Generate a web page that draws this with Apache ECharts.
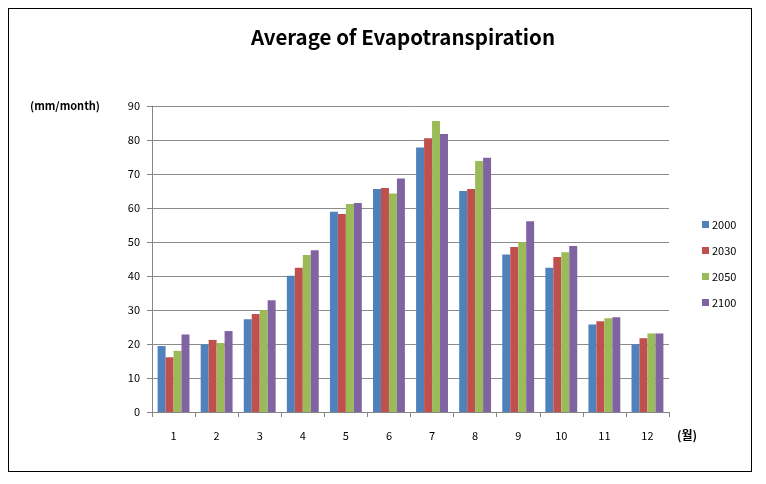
<!DOCTYPE html>
<html>
<head>
<meta charset="utf-8">
<script src="https://cdn.jsdelivr.net/npm/echarts@6/dist/echarts.min.js"></script>
<style>
html,body{margin:0;padding:0;background:#fff;}
#frame{position:absolute;left:8px;top:8px;width:744px;height:464px;border:1px solid #000;box-sizing:border-box;}
#chart{position:absolute;left:0;top:0;width:766px;height:484px;}
</style>
</head>
<body>
<div id="frame"></div>
<div id="chart"></div>
<script>
const months = ['1','2','3','4','5','6','7','8','9','10','11','12'];
const seriesNames = ['2000','2030','2050','2100'];
const s2000 = [19.4, 19.9, 27.3, 40.1, 58.9, 65.6, 77.8, 65.0, 46.3, 42.4, 25.7, 19.9];
const s2030 = [16.1, 21.2, 28.8, 42.4, 58.2, 65.9, 80.5, 65.6, 48.5, 45.6, 26.7, 21.7];
const s2050 = [18.0, 20.3, 30.0, 46.2, 61.2, 64.3, 85.6, 73.8, 49.9, 47.0, 27.6, 23.1];
const s2100 = [22.8, 23.8, 32.9, 47.6, 61.5, 68.7, 81.8, 74.8, 56.1, 48.8, 27.9, 23.1];
const yTicks = [0,10,20,30,40,50,60,70,80,90];

const colors = ['#4F81BD','#C0504D','#9BBB59','#8064A2'];
const dataSets = [s2000, s2030, s2050, s2100];
const font = '"Noto Sans CJK KR", "Noto Sans", sans-serif';

const chart = echarts.init(document.getElementById('chart'), null, {renderer:'canvas'});
chart.setOption({
  animation: false,
  backgroundColor: 'transparent',
  color: colors,
  title: {
    text: 'Average of Evapotranspiration',
    left: 398, top: 22, textAlign: 'center',
    textStyle: {fontFamily: font, fontSize: 20.5, fontWeight: 'bold', color: '#000'}
  },
  legend: {
    orient: 'vertical', left: 697, top: 214,
    itemWidth: 7, itemHeight: 7, itemGap: 15,
    icon: 'rect',
    textStyle: {fontFamily: font, fontSize: 11, color: '#000', padding: [0,0,0,-2]},
    data: seriesNames
  },
  grid: {left: 152, right: 97, top: 106, bottom: 72, containLabel: false},
  xAxis: {
    type: 'category', data: months,
    name: '(월)', nameLocation: 'end', nameGap: 8,
    nameTextStyle: {fontFamily: font, fontSize: 12, fontWeight: 'bold', color: '#000', verticalAlign: 'top', padding: [17,0,0,0]},
    axisLine: {lineStyle: {color: '#868686', width: 1}},
    axisTick: {show: true, alignWithLabel: false, length: 5, lineStyle: {color: '#868686'}},
    axisLabel: {fontFamily: font, fontSize: 11, color: '#000', margin: 18}
  },
  yAxis: {
    type: 'value', min: 0, max: 90, interval: 10,
    name: '(mm/month)', nameLocation: 'end', nameGap: 0,
    nameTextStyle: {fontFamily: font, fontSize: 11, fontWeight: 'bold', color: '#000', align: 'right', verticalAlign: 'middle', padding: [0, 52, 0, 0]},
    axisLine: {show: true, lineStyle: {color: '#868686', width: 1}},
    axisTick: {show: true, length: 5, inside: false, lineStyle: {color: '#868686'}},
    axisLabel: {fontFamily: font, fontSize: 11, color: '#000', margin: 12,
      formatter: v => yTicks.includes(v) ? String(v) : ''},
    splitLine: {show: true, lineStyle: {color: '#8c8c8c', width: 1}}
  },
  series: dataSets.map((d, i) => ({
    name: seriesNames[i], type: 'bar', data: d,
    barGap: '0%', barCategoryGap: '26%',
    itemStyle: {color: colors[i]}
  }))
});
</script>
</body>
</html>
